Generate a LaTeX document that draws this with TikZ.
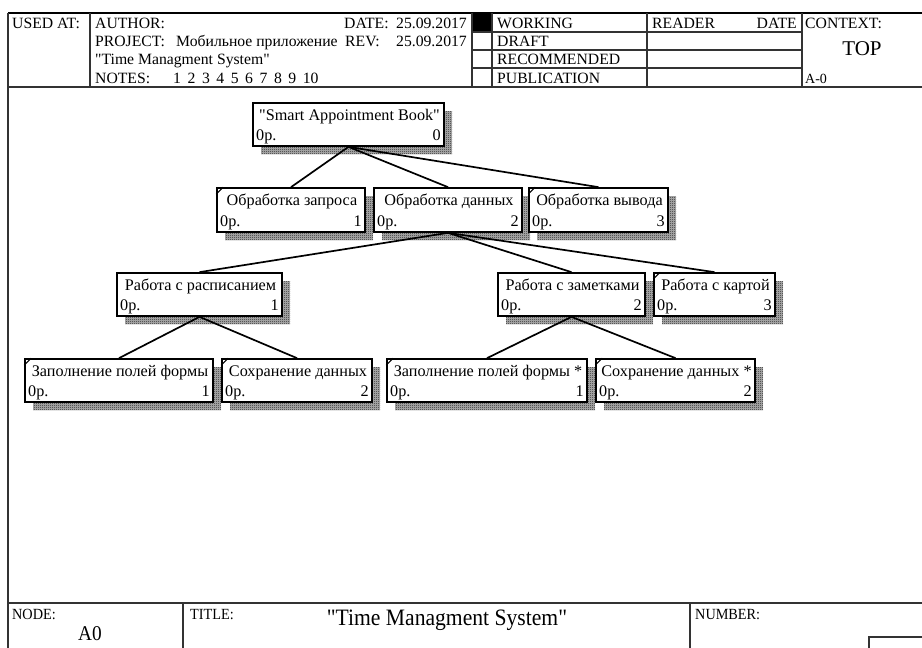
\documentclass[tikz,border=0pt]{standalone}
\usepackage{fontspec}
\setmainfont{Liberation Serif}[Ligatures=TeXOff]
\newfontfamily\narrowserif{Liberation Serif}[FakeStretch=0.92, Ligatures=TeXOff]
\usetikzlibrary{patterns}

\pgfdeclarelayer{shadowlayer}
\pgfsetlayers{shadowlayer,main}

% fine checker used for the box shadows
\pgfdeclarepatternformonly{finecheck}{\pgfpointorigin}{\pgfpoint{2pt}{2pt}}{\pgfpoint{2pt}{2pt}}{%
  \pgfpathrectangle{\pgfpointorigin}{\pgfpoint{1pt}{1pt}}%
  \pgfpathrectangle{\pgfpoint{1pt}{1pt}}{\pgfpoint{1pt}{1pt}}%
  \pgfusepath{fill}}

\tikzset{
  frameline/.style={line width=1.1pt, draw=black!80},
  treebox/.style={rectangle, draw=black, line width=1.7pt, fill=white, inner sep=0pt},
  boxshadow/.style={preaction={fill=black!30}, pattern=finecheck, pattern color=black!85},
  link/.style={line width=1.7pt, draw=black},
  boxtext/.style={font=\fontsize{16.2}{18}\selectfont, inner sep=0pt},
  headtext/.style={font=\fontsize{15.7}{18}\selectfont, inner sep=0pt, anchor=base west},
  headright/.style={headtext, anchor=base east},
  foottext/.style={font=\narrowserif\fontsize{15.5}{18}\selectfont, inner sep=0pt, anchor=base west},
  cornertick/.style={line width=1pt, draw=black}
}

% #1 name, #2 left, #3 top, #4 right, #5 bottom, #6 title, #7 number, #8 corner tick (1 or 0)
\newcommand{\treenode}[8]{%
  \node[treebox, minimum width={(#4-#2)*1pt}, minimum height={(#5-#3)*1pt}]
    (#1) at ({(#2+#4)/2},{(#3+#5)/2}) {};
  \node[boxtext, anchor=base] (#1-title) at ({(#2+#4)/2+1},{#3+17}) {#6};
  \node[boxtext, anchor=base west] (#1-cost) at ({#2+3},{#5-6}) {0р.};
  \node[boxtext, anchor=base east] (#1-num) at ({#4-3},{#5-6}) {#7};
  \begin{pgfonlayer}{shadowlayer}
    \fill[boxshadow] ({#2+8},{#3+8}) rectangle ({#4+8},{#5+8});
  \end{pgfonlayer}
  \ifnum#8=1 \draw[cornertick] (#1.north west) ++(0,7) -- ++(7,-7);\fi
}

\begin{document}
\begin{tikzpicture}[x=1pt, y=-1pt]
\useasboundingbox (0,0) rectangle (922,648);

% ---- header frame ----
\draw[frameline, line width=1.4pt, draw=black] (8,13) -- (922,13);
\draw[frameline] (8,87) -- (922,87);
\draw[frameline] (8,13) -- (8,648);
\draw[frameline] (90,13) -- (90,87);
\fill[black] (472,13) rectangle (492,32);
\foreach \xv in {472,492,647,802} \draw[frameline] (\xv,13) -- (\xv,87);
\foreach \yv in {32,50,68} \draw[frameline] (472,\yv) -- (802,\yv);

% ---- header text ----
\node[headtext] (usedat) at (12,28) {USED AT:};
\node[headtext] (author) at (95,28) {AUTHOR:};
\node[headtext] (datelbl) at (344,28) {DATE:};
\node[headright] (dateval) at (467,28) {25.09.2017};
\node[headtext] (project) at (95,46) {PROJECT:};
\node[headtext] (projname) at (176,46) {Мобильное приложение};
\node[headtext] (revlbl) at (345,46) {REV:};
\node[headright] (revval) at (467,46) {25.09.2017};
\node[headtext] (sysname) at (95,64) {"Time Managment System"};
\node[headtext] (notes) at (95,83) {NOTES:};
\foreach \n in {1,...,10}
  \node[headtext] (note\n) at ({173+(\n-1)*14.4},83) {\n};
\node[headtext] (working) at (497,28) {WORKING};
\node[headtext] (draft) at (497,46) {DRAFT};
\node[headtext] (recommended) at (497,64) {RECOMMENDED};
\node[headtext] (publication) at (497,83) {PUBLICATION};
\node[headtext] (reader) at (652,28) {READER};
\node[headright] (readerdate) at (797,28) {DATE};
\node[headtext] (context) at (805,28) {CONTEXT:};
\node[inner sep=0pt, font=\fontsize{21}{22}\selectfont] (top) at (862,49) {TOP};
\node[headtext, font=\fontsize{14}{16}\selectfont] (aref) at (805,83) {A-0};

% ---- node tree ----
\treenode{root}{253}{103}{444}{146}{"Smart Appointment Book"}{0}{0}
\treenode{request}{217}{188}{365}{232}{Обработка запроса}{1}{1}
\treenode{data}{374}{188}{522}{232}{Обработка данных}{2}{0}
\treenode{output}{529}{188}{668}{232}{Обработка вывода}{3}{1}
\treenode{schedule}{117}{273}{282}{316}{Работа с расписанием}{1}{0}
\treenode{notesbox}{498}{273}{645}{316}{Работа с заметками}{2}{0}
\treenode{map}{654}{273}{775}{316}{Работа с картой}{3}{1}
\treenode{fillA}{25}{359}{213}{402}{Заполнение полей формы}{1}{1}
\treenode{saveA}{222}{359}{372}{402}{Сохранение данных}{2}{1}
\treenode{fillB}{387}{359}{587}{402}{Заполнение полей формы *}{1}{1}
\treenode{saveB}{596}{359}{755}{402}{Сохранение данных *}{2}{1}

\draw[link] (root.south) -- (request.north);
\draw[link] (root.south) -- (data.north);
\draw[link] (root.south) -- (output.north);
\draw[link] (data.south) -- (schedule.north);
\draw[link] (data.south) -- (notesbox.north);
\draw[link] (data.south) -- (map.north);
\draw[link] (schedule.south) -- (fillA.north);
\draw[link] (schedule.south) -- (saveA.north);
\draw[link] (notesbox.south) -- (fillB.north);
\draw[link] (notesbox.south) -- (saveB.north);

% ---- footer frame ----
\draw[frameline] (8,603) -- (922,603);
\draw[frameline] (183,603) -- (183,648);
\draw[frameline] (690,603) -- (690,648);
\draw[frameline] (869,648) -- (869,637) -- (922,637);

\node[foottext] (nodelbl) at (12,619) {NODE:};
\node[inner sep=0pt, font=\narrowserif\fontsize{21}{24}\selectfont] (nodeval) at (90,634) {A0};
\node[foottext] (titlelbl) at (190,619) {TITLE:};
\node[inner sep=0pt, font=\narrowserif\fontsize{23.5}{26}\selectfont] (titleval) at (447,620) {"Time Managment System"};
\node[foottext] (numberlbl) at (695,619) {NUMBER:};
\end{tikzpicture}
\end{document}
